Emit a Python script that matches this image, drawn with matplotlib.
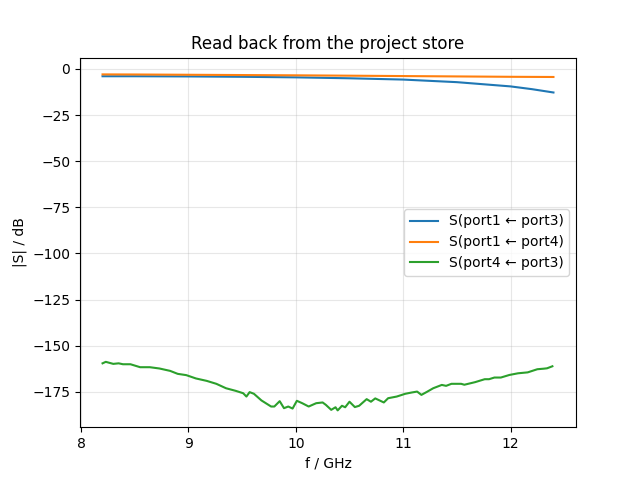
#!/usr/bin/env python3
"""Plot S-parameter magnitudes read back from the project store."""

import matplotlib
matplotlib.use("Agg")
import matplotlib.pyplot as plt

# port1 <- port3 and port1 <- port4 (smooth curves)
f_smooth = [8.2, 8.5, 9.0, 9.5, 10.0, 10.5, 11.0, 11.5, 12.0, 12.2, 12.4]
s13_db = [-4.0, -4.0, -4.1, -4.3, -4.6, -5.1, -5.8, -7.2, -9.5, -11.0, -12.8]
s14_db = [-3.0, -3.05, -3.2, -3.35, -3.5, -3.7, -3.9, -4.1, -4.3, -4.35, -4.4]

# port4 <- port3 (noisy isolation trace)
f_iso = [8.20, 8.23, 8.30, 8.35, 8.39, 8.46, 8.55, 8.64, 8.73, 8.83,
         8.90, 8.98, 9.07, 9.17, 9.26, 9.35, 9.44, 9.51, 9.54, 9.57,
         9.61, 9.68, 9.77, 9.80, 9.85, 9.89, 9.93, 9.97, 10.01, 10.06,
         10.12, 10.19, 10.25, 10.28, 10.33, 10.37, 10.39, 10.43, 10.46, 10.50,
         10.55, 10.59, 10.66, 10.70, 10.74, 10.82, 10.86, 10.94, 11.02, 11.08,
         11.13, 11.17, 11.22, 11.28, 11.36, 11.40, 11.45, 11.54, 11.57, 11.67,
         11.76, 11.80, 11.85, 11.91, 11.99, 12.07, 12.16, 12.25, 12.31, 12.34,
         12.39]
s43_db = [-159.5, -158.7, -159.8, -159.5, -160.0, -160.0, -161.6, -161.6, -162.3, -163.6,
          -165.2, -165.9, -167.7, -169.0, -170.6, -173.0, -174.4, -175.7, -177.5, -175.1,
          -176.0, -179.6, -182.9, -182.9, -180.0, -183.8, -182.9, -184.0, -179.8, -181.1,
          -182.9, -181.1, -180.7, -182.0, -184.7, -183.3, -185.0, -182.5, -183.3, -180.3,
          -183.2, -182.5, -178.9, -180.3, -178.5, -180.7, -178.4, -177.5, -176.0, -175.3,
          -174.8, -176.6, -175.0, -173.0, -171.2, -171.7, -170.6, -170.6, -171.1, -169.7,
          -168.1, -168.1, -167.2, -167.2, -165.8, -164.9, -164.4, -162.7, -162.4, -162.2,
          -161.1]

labels = ["S(port1 \u2190 port3)", "S(port1 \u2190 port4)", "S(port4 \u2190 port3)"]


def main():
    fig, ax = plt.subplots(figsize=(6.4, 4.8), dpi=100)

    ax.plot(f_smooth, s13_db, label=labels[0])
    ax.plot(f_smooth, s14_db, label=labels[1])
    ax.plot(f_iso, s43_db, label=labels[2])

    ax.set_title("Read back from the project store")
    ax.set_xlabel("f / GHz")
    ax.set_ylabel("|S| / dB")
    ax.grid(True, alpha=0.3)
    ax.legend(loc="center right")

    fig.savefig("out.png", dpi=100)
    plt.close(fig)


if __name__ == "__main__":
    main()
